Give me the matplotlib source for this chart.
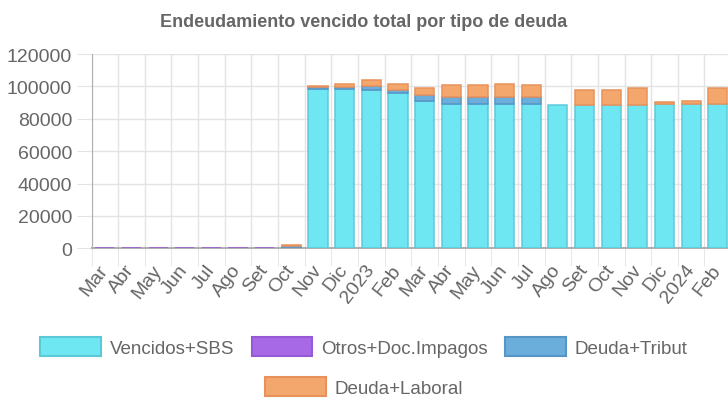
import numpy as np
import matplotlib
matplotlib.use("Agg")
import matplotlib.pyplot as plt
from matplotlib.patches import Patch

plt.rcParams['font.family'] = ['Liberation Sans', 'DejaVu Sans']

# datos
meses = ['Mar', 'Abr', 'May', 'Jun', 'Jul', 'Ago', 'Set', 'Oct', 'Nov', 'Dic',
         '2023', 'Feb', 'Mar', 'Abr', 'May', 'Jun', 'Jul', 'Ago', 'Set', 'Oct',
         'Nov', 'Dic', '2024', 'Feb']
vencidos_sbs = [0, 0, 0, 0, 0, 0, 0, 0, 98500, 98500,
                97800, 96000, 90800, 89000, 89000, 89000, 89000, 88800, 88800, 88800,
                88800, 89000, 89000, 89000]
otros_doc = [150, 150, 150, 150, 150, 150, 150, 0, 0, 0,
             0, 0, 0, 0, 0, 0, 0, 0, 0, 0,
             0, 0, 0, 0]
deuda_tribut = [0, 0, 0, 0, 0, 0, 0, 1200, 1000, 1300,
                2500, 2000, 4000, 4700, 4700, 4700, 4700, 0, 0, 0,
                0, 0, 0, 0]
deuda_laboral = [0, 0, 0, 0, 0, 0, 0, 600, 700, 2000,
                 3800, 3600, 4300, 7000, 7300, 7900, 7000, 0, 9000, 9000,
                 10200, 1500, 2000, 10000]

series = [
    ('Vencidos+SBS', vencidos_sbs, (0.435, 0.906, 0.953), '#5cc9d8'),
    ('Otros+Doc.Impagos', otros_doc, (0.659, 0.412, 0.902), '#9859d6'),
    ('Deuda+Tribut', deuda_tribut, (0.420, 0.682, 0.863), '#5795c6'),
    ('Deuda+Laboral', deuda_laboral, (0.957, 0.655, 0.424), '#e8925a'),
]

gris = '#666666'
fig = plt.figure(figsize=(7.28, 4.02), dpi=100)
ax = fig.add_axes([0.1257, 0.380, 0.8786, 0.483])

x = np.arange(len(meses))
base = np.zeros(len(meses))
for nombre, vals, fc, ec in series:
    vals = np.array(vals, dtype=float)
    bordes = [ec if v > 0 else 'none' for v in vals]
    ax.bar(x, vals, width=0.72, bottom=base, color=fc, edgecolor=bordes,
           linewidth=1.1, zorder=3)
    base += vals

ax.set_xlim(-0.5, len(meses) - 0.5)
ax.set_ylim(0, 120000)
ax.set_yticks(np.arange(0, 120001, 20000))
ax.set_yticklabels([str(v) for v in range(0, 120001, 20000)], fontsize=14, color=gris)
ax.set_xticks(x)
ax.set_xticklabels(meses, rotation=52, ha='right', va='center', rotation_mode='anchor',
                   fontsize=14, color=gris)
ax.set_xticks(np.arange(-0.5, len(meses), 1), minor=True)

ax.grid(True, which='major', axis='y', color='#e3e3e3', linewidth=1, zorder=0)
ax.grid(True, which='minor', axis='x', color='#e3e3e3', linewidth=1, zorder=0)
ax.tick_params(axis='y', which='major', length=11, color='#e3e3e3', pad=3)
ax.tick_params(axis='x', which='major', length=0, pad=13)
ax.tick_params(axis='x', which='minor', length=13, color='#e3e3e3')

for lado in ['top', 'right']:
    ax.spines[lado].set_visible(False)
ax.spines['left'].set_color('#b0b0b0')
ax.spines['bottom'].set_color('#b0b0b0')
ax.spines['bottom'].set_linewidth(1.5)

fig.text(0.5, 0.945, 'Endeudamiento vencido total por tipo de deuda',
         ha='center', va='center', fontsize=13, fontweight='bold', color=gris)

handles = [Patch(facecolor=fc, edgecolor=ec, linewidth=1.5, label=n)
           for n, _, fc, ec in series]
opts = dict(frameon=False, fontsize=13.5, handlelength=3.25, handleheight=1.2,
            handletextpad=0.48, columnspacing=0.9, labelcolor=gris)
leg1 = fig.legend(handles=handles[:3], ncol=3, loc='center',
                  bbox_to_anchor=(0.5, 0.134), **opts)
leg2 = fig.legend(handles=handles[3:], ncol=1, loc='center',
                  bbox_to_anchor=(0.5, 0.035), **opts)

fig.savefig('out.png', dpi=100)
